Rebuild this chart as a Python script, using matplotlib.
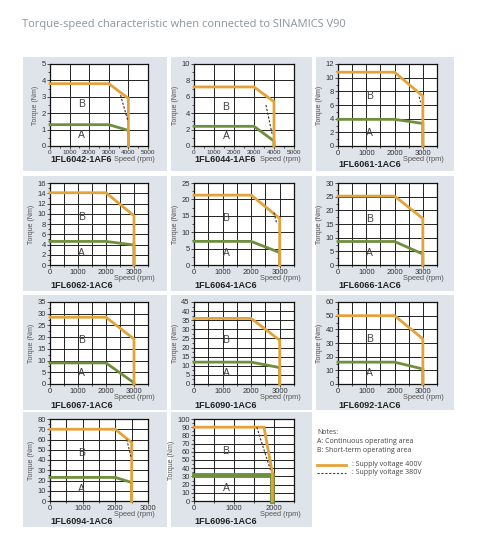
import matplotlib
matplotlib.use("Agg")
import matplotlib.pyplot as plt
from matplotlib.ticker import MultipleLocator, FixedLocator
from matplotlib.patches import Rectangle
from matplotlib.lines import Line2D

# ---------------- data ----------------
models = ["1FL6042-1AF6", "1FL6044-1AF6", "1FL6061-1AC6",
          "1FL6062-1AC6", "1FL6064-1AC6", "1FL6066-1AC6",
          "1FL6067-1AC6", "1FL6090-1AC6", "1FL6092-1AC6",
          "1FL6094-1AC6", "1FL6096-1AC6"]

# short-term limit, supply 400 V (orange)
speed_400 = [[0, 3000, 4000, 4000], [0, 3000, 4000, 4000], [0, 2000, 3000, 3000],
             [0, 2000, 3000, 3000], [0, 2000, 3000, 3000], [0, 2000, 3000, 3000],
             [0, 2000, 3000, 3000], [0, 2000, 3000, 3000], [0, 2000, 3000, 3000],
             [0, 2000, 2500, 2500], [0, 1750, 1960, 1960]]
torque_400 = [[3.8, 3.8, 2.9, 0], [7.2, 7.2, 5.4, 0], [10.8, 10.8, 7.3, 0],
              [14.1, 14.1, 9.6, 0], [21.3, 21.3, 14.2, 0], [25.2, 25.2, 17.0, 0],
              [28.5, 28.5, 19.2, 0], [36.0, 36.0, 24.0, 0], [50.0, 50.0, 33.0, 0],
              [70.0, 70.0, 57.0, 0], [90.0, 90.0, 34.0, 0]]

# continuous limit (green)
speed_cont = [[0, 3000, 4000, 4000], [0, 3000, 4000, 4000], [0, 2000, 3000, 3000],
              [0, 2000, 3000, 3000], [0, 2000, 3000, 3000], [0, 2000, 3000, 3000],
              [0, 2000, 3000, 3000], [0, 2000, 3000, 3000], [0, 2000, 3000, 3000],
              [0, 2000, 2500, 2500], [0, 1960, 1960]]
torque_cont = [[1.3, 1.3, 0.95, 0], [2.4, 2.4, 0.6, 0], [3.9, 3.9, 3.3, 0],
               [4.6, 4.6, 3.9, 0], [7.2, 7.2, 3.8, 0], [8.6, 8.6, 4.0, 0],
               [9.0, 9.0, 0.5, 0], [12.0, 12.0, 9.0, 0], [16.0, 16.0, 11.0, 0],
               [23.0, 23.0, 18.0, 0], [32.0, 32.0, 0]]

# short-term limit, supply 380 V (dashed)
speed_380 = [[3600, 3980], [3600, 3900], [2870, 2920], [], [2800, 2900], [], [], [], [],
             [2350, 2480], [1570, 1910]]
torque_380 = [[3.1, 1.5], [5.0, 1.5], [7.2, 6.4], [], [16.0, 12.5], [], [], [], [],
              [60.0, 43.0], [90.0, 38.0]]

x_max = [5000, 5000, 3500, 3500, 3500, 3500, 3500, 3500, 3500, 3000, 2500]
y_max = [5, 10, 12, 16, 25, 30, 35, 45, 60, 80, 100]
y_step = [1, 2, 2, 2, 5, 5, 5, 5, 10, 10, 10]

title = "Torque-speed characteristic when connected to SINAMICS V90"
notes = ["Notes:", "A: Continuous operating area", "B: Short-term operating area"]
legend_labels = [": Supply voltage 400V", ": Supply voltage 380V"]

# ---------------- style ----------------
ORANGE = "#e3a23a"
GREEN = "#6e8f3c"
PANEL = "#dfe4ea"
TXT = "#333333"

W, H = 480, 547
fig = plt.figure(figsize=(W / 100, H / 100), dpi=100)
fig.patch.set_facecolor("white")

def fx(x):
    return x / W

def fy(y):
    return 1 - y / H

col_box_x = [23, 171, 316]
col_box_w = [144, 141, 138]
row_box_y = [57, 176, 295, 412]
row_box_h = [114, 115, 115, 115]
col_ax_x = [50, 194, 338]
col_ax_w = [98, 100, 99]
row_ax_y = [64, 183, 302, 419]
ax_h = 82

fig.text(fx(22), fy(25), title, fontsize=8, color="#8c959c",
         family=["Open Sans", "DejaVu Sans"], va="center", ha="left")

for i, name in enumerate(models):
    r, c = divmod(i, 3)
    # panel background
    fig.patches.append(Rectangle((fx(col_box_x[c]), fy(row_box_y[r] + row_box_h[r])),
                                 col_box_w[c] / W, row_box_h[r] / H,
                                 transform=fig.transFigure, facecolor=PANEL,
                                 edgecolor="none", zorder=-5))
    ax = fig.add_axes([fx(col_ax_x[c]), fy(row_ax_y[r] + ax_h),
                       col_ax_w[c] / W, ax_h / H])
    ax.set_facecolor("white")
    ax.set_xlim(0, x_max[i])
    ax.set_ylim(0, y_max[i])
    if x_max[i] == 5000:
        ax.xaxis.set_major_locator(MultipleLocator(1000))
        ax.xaxis.set_minor_locator(MultipleLocator(500))
        ax.grid(True, which="major", axis="x", color="#222222", lw=0.7)
        xfs = 4.6
    else:
        ax.xaxis.set_major_locator(FixedLocator([v for v in range(0, x_max[i] + 1, 1000)]))
        ax.xaxis.set_minor_locator(MultipleLocator(500))
        ax.grid(True, which="both", axis="x", color="#222222", lw=0.7)
        xfs = 5.5
    ax.yaxis.set_major_locator(MultipleLocator(y_step[i]))
    ax.yaxis.set_minor_locator(MultipleLocator(y_step[i] / 2))
    ax.grid(True, which="major", axis="y", color="#222222", lw=0.7)
    ax.set_axisbelow(True)
    ax.tick_params(which="both", direction="out", length=2, width=0.6,
                   labelsize=5.5, colors=TXT, pad=1)
    ax.tick_params(axis="x", labelsize=xfs)
    ax.tick_params(which="minor", length=1.5)
    for lab in ax.get_xticklabels() + ax.get_yticklabels():
        lab.set_family(["Liberation Sans", "DejaVu Sans"])
    for s in ax.spines.values():
        s.set_linewidth(0.9)
        s.set_color("#111111")

    lw_c = 3.5 if i == 10 else 2
    ax.plot(speed_cont[i], torque_cont[i], color=GREEN, lw=lw_c,
            solid_joinstyle="miter", zorder=3, clip_on=False)
    ax.plot(speed_400[i], torque_400[i], color=ORANGE, lw=2,
            solid_joinstyle="miter", zorder=4, clip_on=False)
    if speed_380[i]:
        ax.plot(speed_380[i], torque_380[i], color="#333333", lw=0.8,
                ls=(0, (2, 1.5)), zorder=5)

    ya = torque_cont[i][0]
    yb = torque_400[i][0]
    ax.text(0.32, (ya / 2) / y_max[i], "A", transform=ax.transAxes,
            fontsize=7.5, color="#444444", ha="center", va="center",
            family=["Liberation Sans", "DejaVu Sans"])
    ax.text(0.32, ((ya + yb) / 2) / y_max[i], "B", transform=ax.transAxes,
            fontsize=7.5, color="#444444", ha="center", va="center",
            family=["Liberation Sans", "DejaVu Sans"])

    ax.set_ylabel("Torque (Nm)", fontsize=5, color="#555555", labelpad=2,
                  family=["Liberation Sans", "DejaVu Sans"])
    ax.text(1.07, -0.17, "Speed (rpm)", transform=ax.transAxes, fontsize=5.3,
            color="#555555", ha="right", va="center",
            family=["Liberation Sans", "DejaVu Sans"])

    if r == 0:
        ly = 165 if c == 2 else 160
    else:
        ly = [160, 285, 406, 522][r]
    fig.text(fx(col_ax_x[c]), fy(ly), name, fontsize=6.5, fontweight="bold",
             color="#222222", ha="left", va="center",
             family=["Liberation Sans", "DejaVu Sans"])

# notes block
for k, t in enumerate(notes):
    fig.text(fx(317), fy(433 + 8.5 * k), t, fontsize=5, color="#444444",
             ha="left", va="center", family=["Open Sans", "DejaVu Sans"])
fig.lines.append(Line2D([fx(317), fx(346)], [fy(465), fy(465)], color=ORANGE,
                        lw=2, transform=fig.transFigure))
fig.lines.append(Line2D([fx(317), fx(346)], [fy(473), fy(473)], color="#444444",
                        lw=0.8, ls=(0, (2, 1.5)), transform=fig.transFigure))
for k, t in enumerate(legend_labels):
    fig.text(fx(352), fy(465 + 8 * k), t, fontsize=5, color="#444444",
             ha="left", va="center", family=["Open Sans", "DejaVu Sans"])

fig.savefig("out.png", dpi=100, facecolor="white")
